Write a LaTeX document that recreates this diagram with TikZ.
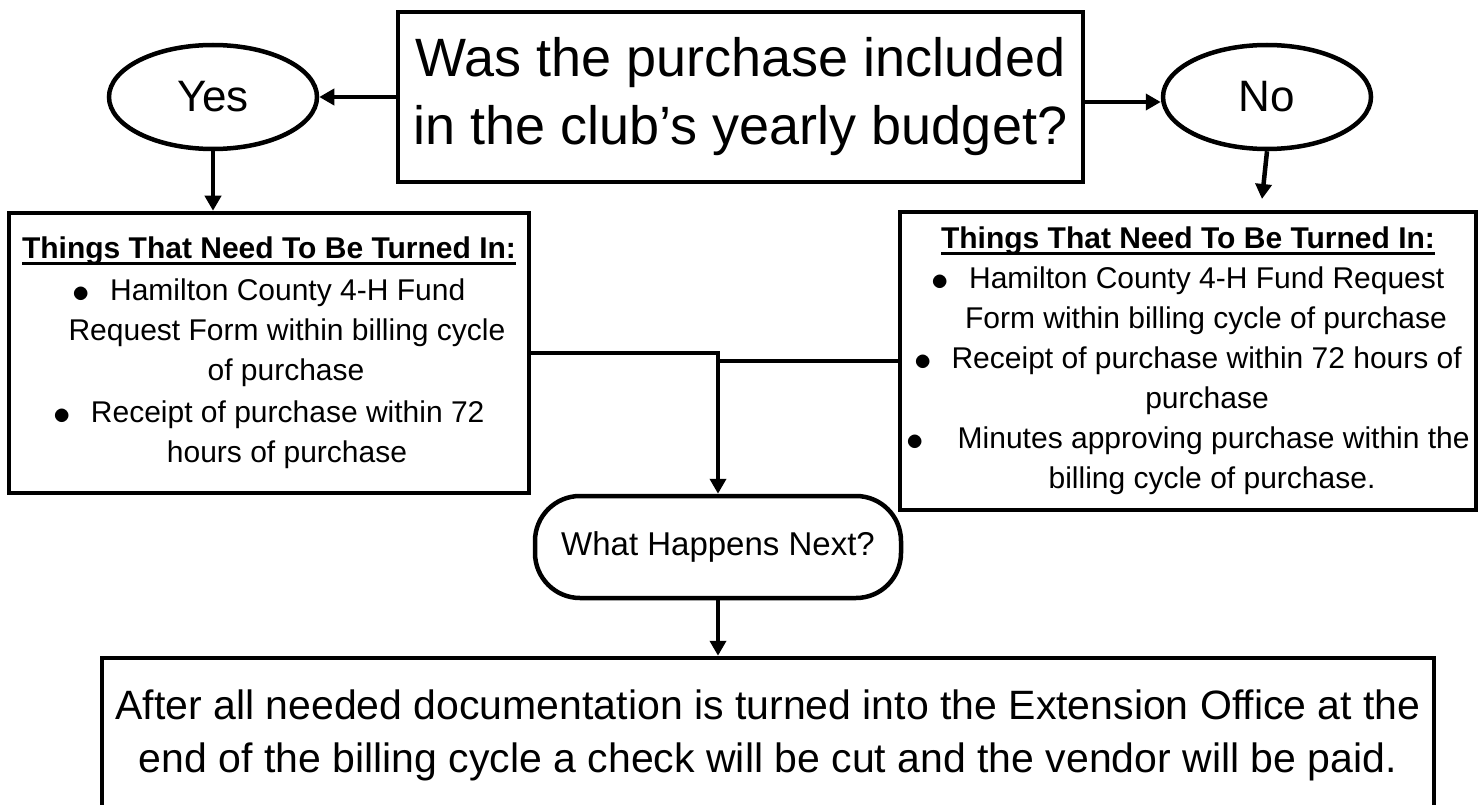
\documentclass[tikz,border=0pt]{standalone}
\usepackage{fontspec}
\setmainfont{Liberation Sans}
\usetikzlibrary{shapes.geometric,arrows.meta}
\newcommand{\ulhead}[1]{\setbox0=\hbox{\bfseries #1}\rlap{\rule[-6.5pt]{\wd0}{3.5pt}}\box0}
\newcommand{\dotitem}{\raisebox{-2pt}{\scalebox{1.4}{$\bullet$}}}
\begin{document}
\begin{tikzpicture}[x=1pt,y=-1pt,line width=4.5pt,
    box/.style={draw,rectangle,inner sep=0pt,align=center},
    answer/.style={draw,ellipse,inner sep=0pt,minimum width=208pt,minimum height=104pt,
      font=\fontsize{44}{50}\selectfont},
    todo/.style={box,font=\fontsize{30}{40}\selectfont},
    flow/.style={-{Triangle[length=15pt,width=16pt]}}]
  \useasboundingbox (0,0) rectangle (1481,805);
  \clip (0,0) rectangle (1481,805);

  % Question and the two answers
  \node[box,minimum width=685pt,minimum height=170pt,font=\fontsize{54}{68}\selectfont]
    (question) at (740.5,97) {Was the purchase included\\in the club’s yearly budget?};
  \node[answer] (yes) at (213,97) {Yes};
  \node[answer] (no) at (1267,97) {No};

  % Things to turn in
  \node[todo,minimum width=520pt,minimum height=280pt] (yeslist) at (269,353) {%
    \ulhead{Things That Need To Be Turned In:}\\[2pt]
    \dotitem\hspace{20pt}Hamilton County 4-H Fund\\
    \hspace*{36pt}Request Form within billing cycle\\
    \hspace*{34pt}of purchase\\[2pt]
    \dotitem\hspace{20pt}Receipt of purchase within 72\\
    \hspace*{36pt}hours of purchase};
  \node[todo,minimum width=576pt,minimum height=298pt] (nolist) at (1188,361) {%
    \ulhead{Things That Need To Be Turned In:}\\
    \dotitem\hspace{20pt}Hamilton County 4-H Fund Request\\
    \hspace*{36pt}Form within billing cycle of purchase\\
    \dotitem\hspace{20pt}Receipt of purchase within 72 hours of\\
    \hspace*{38pt}purchase\\
    \dotitem\hspace{34pt}Minutes approving purchase within the\\
    \hspace*{48pt}billing cycle of purchase.};

  % Next step and the result
  \node[draw,rounded corners=45pt,minimum width=366pt,minimum height=102pt,
    font=\fontsize{33}{40}\selectfont] (next) at (718,547) {What Happens Next?};
  \node[box,minimum width=1332pt,minimum height=155pt,font=\fontsize{41}{53}\selectfont]
    (paid) at (768,735.5) {After all needed documentation is turned into the Extension Office at the\\
    end of the billing cycle a check will be cut and the vendor will be paid.};

  % Connectors
  \coordinate (notip) at (1262,199);
  \draw[flow] (question.west) -- (yes.east);
  \draw[flow] ([yshift=-5pt]question.east) -- ([yshift=-5pt]no.west);
  \draw[flow] (yes.south) -- (yes.south |- yeslist.north);
  \draw[flow] (no.south) -- (notip);
  \draw[flow] (yeslist.east) -| (next.north);
  \draw (nolist.west) -- (nolist.west -| next.north);
  \draw[flow] (next.south) -- (paid.north -| next.south);
\end{tikzpicture}
\end{document}
